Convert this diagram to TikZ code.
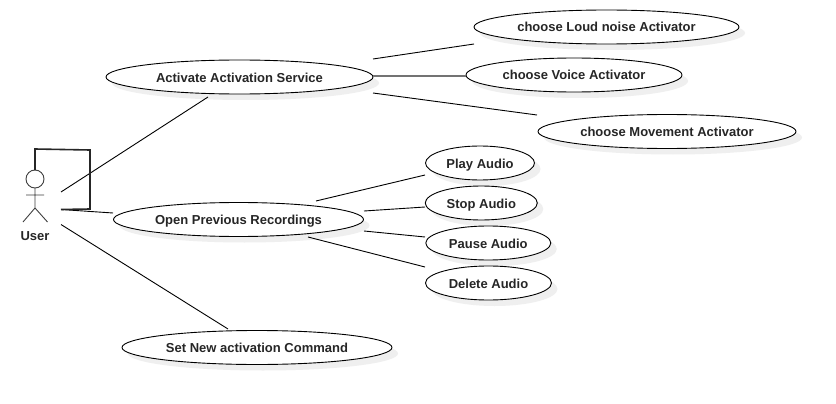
\documentclass[tikz,border=0pt]{standalone}
\usepackage{fontspec}
\setmainfont{Liberation Sans}
\usetikzlibrary{shapes.geometric}
\definecolor{shadowgrey}{HTML}{EFEFEF}
\tikzset{
  usecase/.style={ellipse,draw=black,line width=0.9pt,fill=white,inner sep=0pt,outer sep=0pt,
    minimum height=34pt,text height=10pt,text depth=0pt,font=\fontsize{13}{15}\selectfont\bfseries,text=black!85},
  caseshadow/.style={ellipse,fill=shadowgrey,draw=none,inner sep=0pt,minimum height=34pt},
  assoc/.style={draw=black,line width=0.9pt},
  actorline/.style={draw=black!75,line width=0.9pt},
  actorlabel/.style={font=\fontsize{13}{15}\selectfont\bfseries,text=black!85,inner sep=0pt},
}
\newcommand{\usecasenode}[5]{%
  \node[caseshadow,minimum width=#4pt] at (#2+6,#3+6) {};
  \node[usecase,minimum width=#4pt] (#1) at (#2,#3) {#5};
}
\begin{document}
\begin{tikzpicture}[x=1pt,y=-1pt]
\useasboundingbox[fill=white] (0,0) rectangle (836,404);
% use cases
\usecasenode{activate}{239.5}{77}{267}{Activate Activation Service}
\usecasenode{loud}{606.5}{27}{265}{choose Loud noise Activator}
\usecasenode{voice}{574}{75}{216}{choose Voice Activator}
\usecasenode{movement}{667}{131.5}{258}{choose Movement Activator}
\usecasenode{play}{480}{163}{109}{Play Audio}
\usecasenode{stop}{481.3}{203}{112}{Stop Audio}
\usecasenode{pause}{488.3}{243}{125}{Pause Audio}
\usecasenode{delete}{488.5}{283}{126}{Delete Audio}
\usecasenode{open}{238.5}{219.5}{250}{Open Previous Recordings}
\usecasenode{setcmd}{257}{347.5}{270}{Set New activation Command}
% actor
\node[circle,draw=black!75,line width=0.9pt,minimum size=18pt,inner sep=0pt,outer sep=0pt] (head) at (35,179) {};
\coordinate (hip) at (35,208);
\coordinate (armL) at (26,195);
\coordinate (armR) at (44,195);
\coordinate (legL) at (23,222);
\coordinate (legR) at (47.5,222);
\draw[actorline] (head.south) -- (hip) (armL) -- (armR) (legL) -- (hip) -- (legR);
\node[actorlabel] (user) at (35,236) {User};
% actor connector ends
\coordinate (uA) at (61,192);
\coordinate (uO) at (61,209.5);
\coordinate (uS) at (61,224.5);
\coordinate (aU) at (208,97);
\coordinate (oU) at (113,213);
\coordinate (sU) at (228,329);
\draw[assoc] (uA) -- (aU);
\draw[assoc] (uO) -- (oU);
\draw[assoc] (uS) -- (sU);
% self loop
\coordinate (c1) at (35,149);
\coordinate (c2) at (90,150);
\coordinate (c3) at (90,209);
\draw[draw=black!85,line width=1.6pt] (head.north) -- (c1) -- (c2) -- (c3) -- (uO);
% activation extensions
\coordinate (a1) at (373,59);
\coordinate (l1) at (474,44);
\coordinate (a2) at (373,76);
\coordinate (v1) at (466,76);
\coordinate (a3) at (373,93);
\coordinate (m1) at (537,115);
\draw[assoc] (a1) -- (l1);
\draw[draw=black!55,line width=1.4pt] (a2) -- (v1);
\draw[assoc] (a3) -- (m1);
% recordings extensions
\coordinate (o1) at (316,201);
\coordinate (p1) at (425,175);
\coordinate (o2) at (364,211);
\coordinate (p2) at (425,207);
\coordinate (o3) at (364,231);
\coordinate (p3) at (425,237);
\coordinate (o4) at (308,237);
\coordinate (p4) at (425,267);
\draw[assoc] (o1) -- (p1);
\draw[assoc] (o2) -- (p2);
\draw[assoc] (o3) -- (p3);
\draw[assoc] (o4) -- (p4);
\end{tikzpicture}
\end{document}
